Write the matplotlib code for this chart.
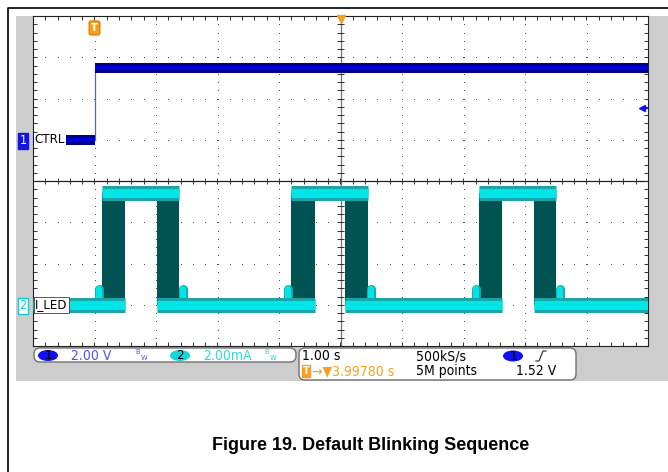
import numpy as np
import matplotlib
matplotlib.use("Agg")
import matplotlib.pyplot as plt
from matplotlib.patches import Rectangle, FancyBboxPatch, Ellipse

# scope settings
t_left, t_right = -1.0, 9.0          # seconds from trigger (1 s/div)
ch1_volts_per_div = 2.0
ch2_ma_per_div = 2.0
ch1_offset_div = 1.0
ch2_offset_div = -3.0
trig_level_v = 1.52

# CTRL (channel 1)
ctrl_low_v = 0.0
ctrl_high_v = 3.5
ctrl_step_t = 0.0

# I_LED (channel 2), PWM fade in / hold / fade out
led_low_ma = 0.0
led_high_ma = 5.4
led_up_start = [0.13, 3.20, 6.26]
led_up_end = [0.50, 3.58, 6.62]
led_down_start = [1.01, 4.08, 7.14]
led_down_end = [1.38, 4.44, 7.51]
blob_times = [0.07, 1.44, 3.14, 4.50, 6.20, 7.57]
blob_ma = 0.75

SCOPE_FONT = dict(family="DejaVu Sans", stretch="condensed")
BLUE_DARK = "#000080"
BLUE = "#0000D8"
CYAN = "#00E6E6"
CYAN_EDGE = "#1AA6A6"
TEAL = "#005353"
ORANGE = "#F5A023"
GRAY = "#CDCDCD"
BW = r"$\mathregular{^B{}_W}$"


def ch1(v):
    return np.asarray(v) / ch1_volts_per_div + ch1_offset_div


def ch2(ma):
    return np.asarray(ma) / ch2_ma_per_div + ch2_offset_div


fig = plt.figure(figsize=(6.68, 4.72), dpi=100)

# background: frame, gray panel, status bar, caption (pixel coords)
bg = fig.add_axes([0, 0, 1, 1], zorder=0)
bg.set_xlim(0, 668)
bg.set_ylim(472, 0)
bg.axis("off")
bg.plot([8, 8, 668], [472, 8, 8], color="black", lw=1.2)
bg.add_patch(Rectangle((16, 16), 652, 365, facecolor=GRAY, edgecolor="none"))

# channel badges on the left
bg.text(23, 140.5, "1", ha="center", va="center", fontsize=9, color="white",
        bbox=dict(boxstyle="square,pad=0.12", fc="#1414E0", ec="#1414E0"), **SCOPE_FONT)
bg.text(23, 305.5, "2", ha="center", va="center", fontsize=9, color="#10D0D0",
        bbox=dict(boxstyle="square,pad=0.12", fc="white", ec="#10D0D0"), **SCOPE_FONT)

# status boxes
bg.add_patch(FancyBboxPatch((34, 348), 262, 14, boxstyle="round,pad=0,rounding_size=6",
                            fc="white", ec="#707070", lw=1))
bg.add_patch(FancyBboxPatch((299, 348), 277, 32, boxstyle="round,pad=0,rounding_size=6",
                            fc="white", ec="#707070", lw=1))
bg.add_patch(Ellipse((48, 355.5), 20, 11, fc="#1010F0", ec="none"))
bg.text(48, 355.5, "1", ha="center", va="center", fontsize=9.5, **SCOPE_FONT)
bg.text(71, 355.5, "2.00 V", ha="left", va="center", fontsize=10, color="#5050F0",
        **SCOPE_FONT)
bg.text(135, 355.5, BW, fontsize=7, color="#5050F0", va="center", ha="left")
bg.add_patch(Ellipse((180, 355.5), 20, 11, fc="#10D8D8", ec="none"))
bg.text(180, 355.5, "2", ha="center", va="center", fontsize=9.5, **SCOPE_FONT)
bg.text(203, 355.5, "2.00mA", ha="left", va="center", fontsize=10, color="#30D8D8",
        **SCOPE_FONT)
bg.text(264, 355.5, BW, fontsize=7, color="#30D8D8", va="center", ha="left")

bg.text(302, 356, "1.00 s", ha="left", va="center", fontsize=10, **SCOPE_FONT)
bg.text(416, 356, "500kS/s", ha="left", va="center", fontsize=10, **SCOPE_FONT)
bg.add_patch(Ellipse((513, 356), 20, 11, fc="#1010F0", ec="none"))
bg.text(513, 356, "1", ha="center", va="center", fontsize=9.5, **SCOPE_FONT)
bg.plot([536, 539, 543, 546], [361, 361, 351, 351], color="#202020", lw=0.8)
bg.text(306, 371, "T", ha="center", va="center", fontsize=7, color="white",
        weight="bold", bbox=dict(boxstyle="square,pad=0.1", fc=ORANGE, ec=ORANGE))
bg.text(312, 371, "\u2192\u25bc3.99780 s", ha="left", va="center", fontsize=10,
        color=ORANGE, **SCOPE_FONT)
bg.text(416, 371, "5M points", ha="left", va="center", fontsize=10, **SCOPE_FONT)
bg.text(516, 371, "1.52 V", ha="left", va="center", fontsize=10, **SCOPE_FONT)

bg.text(371, 445, "Figure 19. Default Blinking Sequence", ha="center", va="center",
        fontsize=13, weight="bold", family=["Liberation Sans", "DejaVu Sans"])

# scope screen
ax = fig.add_axes([33 / 668, 1 - 346 / 472, 615 / 668, 330 / 472], zorder=1)
ax.set_facecolor("white")
ax.set_xlim(t_left, t_right)
ax.set_ylim(-4, 4)
ax.set_xticks(np.arange(t_left, t_right + 0.01, 0.2))
ax.set_yticks(np.arange(-4, 4.01, 0.2))
ax.tick_params(which="both", direction="in", length=3, width=0.7, color="#303030",
               top=True, right=True, labelbottom=False, labelleft=False)
for s in ax.spines.values():
    s.set_linewidth(0.8)
    s.set_color("#202020")

# dotted graticule
gx = np.arange(t_left, t_right, 0.2)
gy = np.arange(-4, 4, 0.2)
for yv in [-3, -2, -1, 1, 2, 3]:
    ax.plot(gx, np.full_like(gx, yv), ls="none", marker="s", ms=0.7, mew=0,
            color="#505050", zorder=1)
for xv in [0, 1, 2, 3, 5, 6, 7, 8]:
    ax.plot(np.full_like(gy, xv), gy, ls="none", marker="s", ms=0.7, mew=0,
            color="#505050", zorder=1)
ax.axhline(0, color="#202020", lw=0.9, zorder=1)
ax.axvline(4, color="#707070", lw=0.9, zorder=1)
ax.vlines(gx, -0.08, 0.08, color="#303030", lw=0.7, zorder=1)
ax.hlines(gy, 4 - 0.05, 4 + 0.05, color="#303030", lw=0.7, zorder=1)

# CTRL trace
for seg in [(t_left, ctrl_step_t, ctrl_low_v), (ctrl_step_t, t_right, ctrl_high_v)]:
    yy = ch1([seg[2], seg[2]])
    ax.plot([seg[0], seg[1]], yy, color=BLUE_DARK, lw=7.2, solid_capstyle="butt", zorder=3)
    ax.plot([seg[0], seg[1]], yy, color=BLUE, lw=3.2, solid_capstyle="butt", zorder=3)
ax.plot([ctrl_step_t, ctrl_step_t], ch1([ctrl_low_v, ctrl_high_v]), color="#5868A8",
        lw=0.9, zorder=2.5)

# I_LED trace
lo, hi = ch2(led_low_ma), ch2(led_high_ma)
for a, b in list(zip(led_up_start, led_up_end)) + list(zip(led_down_start, led_down_end)):
    ax.fill_between([a, b], lo, hi, color=TEAL, lw=0, zorder=2)

for tb in blob_times:
    ax.plot([tb, tb], ch2([led_low_ma, blob_ma]), color=CYAN_EDGE, lw=6.5,
            solid_capstyle="round", zorder=2.4)
    ax.plot([tb, tb], ch2([led_low_ma, blob_ma]), color=CYAN, lw=4.5,
            solid_capstyle="round", zorder=2.5)

low_starts = [t_left] + led_down_start
low_ends = led_up_end + [t_right]
for a, b in zip(low_starts, low_ends):
    ax.plot([a, b], [lo, lo], color=CYAN_EDGE, lw=10.8, solid_capstyle="butt", zorder=3)
    ax.plot([a, b], [lo, lo], color=CYAN, lw=6.5, solid_capstyle="butt", zorder=3)
for a, b in zip(led_up_start, led_down_end):
    ax.plot([a, b], [hi, hi], color=CYAN_EDGE, lw=10.8, solid_capstyle="butt", zorder=3)
    ax.plot([a, b], [hi, hi], color=CYAN, lw=6.5, solid_capstyle="butt", zorder=3)

# labels on screen
ax.text(t_left + 0.03, ch1_offset_div, "CTRL", ha="left", va="center", fontsize=9.5,
        zorder=6, bbox=dict(boxstyle="square,pad=0.05", fc="white", ec="none"),
        **SCOPE_FONT)
ax.text(t_left + 0.03, ch2_offset_div, "I_LED", ha="left", va="center", fontsize=9.5,
        zorder=6, bbox=dict(boxstyle="square,pad=0.1", fc="white", ec="#404040", lw=0.6),
        **SCOPE_FONT)

# trigger markers
ax.text(0, 3.71, "T", ha="center", va="center", fontsize=7, color="white",
        weight="bold", zorder=6,
        bbox=dict(boxstyle="round,pad=0.2", fc=ORANGE, ec="#E08000"))
ax.plot(4, 3.93, marker="v", ms=6, color=ORANGE, clip_on=False, zorder=6)
ax.plot([8.9, 8.99], [ch1(trig_level_v)] * 2, color="#1010F0", lw=1.4, zorder=6)
ax.plot(8.9, ch1(trig_level_v), marker="<", ms=5, color="#1010F0", zorder=6)

fig.savefig("out.png", dpi=100)
